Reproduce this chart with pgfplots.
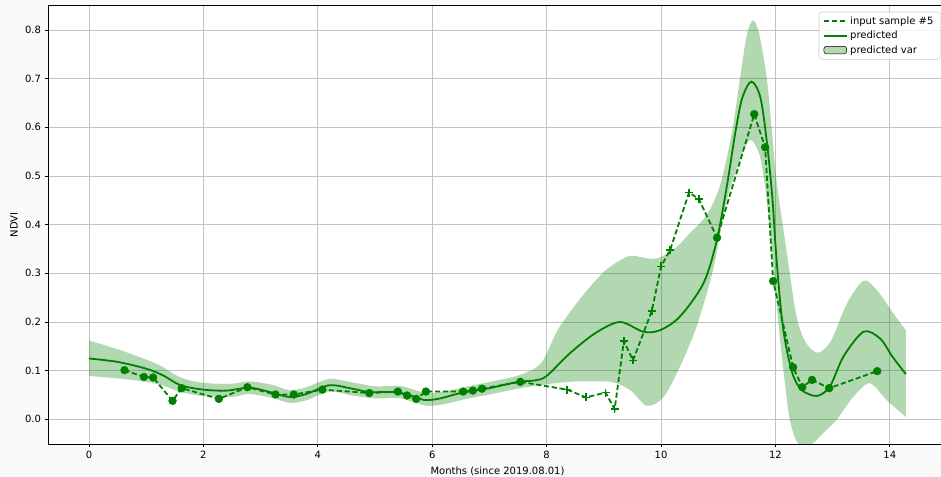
\documentclass[border=0pt]{standalone}
\usepackage{fontspec}
\setmainfont{DejaVu Sans}
\usepackage{pgfplots}
\pgfplotsset{compat=1.18}
\usepackage{pgfplotstable}
\usepgfplotslibrary{fillbetween}
\definecolor{mplgreen}{RGB}{0,128,0}
\definecolor{gridc}{RGB}{195,195,195}
\definecolor{bgc}{RGB}{249,249,249}
\definecolor{legc}{RGB}{204,204,204}

% input sample #5 : m=0 circle (valid), m=1 plus
\pgfplotstableread{
x y m
0.62 0.101 0
0.96 0.087 0
1.12 0.086 0
1.46 0.038 0
1.62 0.064 0
2.27 0.042 0
2.77 0.066 0
3.26 0.051 0
3.58 0.051 0
4.08 0.061 0
4.90 0.054 0
5.40 0.057 0
5.56 0.049 0
5.72 0.042 0
5.89 0.057 0
6.54 0.057 0
6.71 0.059 0
6.87 0.063 0
7.54 0.077 0
8.36 0.061 1
8.69 0.045 1
9.03 0.055 1
9.19 0.021 1
9.35 0.161 1
9.51 0.121 1
9.84 0.223 1
10.00 0.314 1
10.16 0.348 1
10.49 0.466 1
10.66 0.453 1
10.98 0.373 0
11.63 0.627 0
11.82 0.559 0
11.96 0.284 0
12.31 0.107 0
12.47 0.066 0
12.64 0.081 0
12.94 0.064 0
13.78 0.099 0
}\sampletab

\pgfplotstableread{
x y
0 0.125
0.5 0.118
1.0 0.104
1.3 0.090
1.6 0.070
2.0 0.061
2.4 0.059
2.8 0.065
3.1 0.058
3.5 0.046
3.8 0.052
4.2 0.070
4.6 0.063
4.9 0.056
5.3 0.056
5.6 0.050
5.85 0.040
6.1 0.042
6.5 0.054
7.0 0.064
7.5 0.077
7.8 0.080
8.0 0.089
8.4 0.135
8.85 0.177
9.28 0.200
9.69 0.180
9.98 0.183
10.33 0.211
10.74 0.279
10.97 0.365
11.15 0.478
11.3 0.590
11.42 0.660
11.58 0.694
11.74 0.660
11.86 0.560
11.95 0.450
12.0 0.360
12.05 0.285
12.12 0.200
12.2 0.142
12.31 0.090
12.46 0.060
12.72 0.048
12.95 0.067
13.19 0.129
13.54 0.180
13.83 0.166
14.05 0.128
14.28 0.093
}\predtab

\pgfplotstableread{
x y
0 0.162
0.6 0.140
1.2 0.113
1.6 0.086
2.0 0.075
2.5 0.073
2.8 0.078
3.2 0.071
3.5 0.060
3.8 0.066
4.2 0.083
4.6 0.076
5.0 0.068
5.4 0.069
5.6 0.064
5.9 0.054
6.2 0.057
6.6 0.067
7.0 0.077
7.5 0.090
7.9 0.115
8.2 0.185
8.6 0.250
9.0 0.303
9.3 0.328
9.5 0.336
9.9 0.330
10.25 0.352
10.5 0.382
10.8 0.420
11.03 0.480
11.24 0.590
11.38 0.700
11.5 0.790
11.61 0.820
11.72 0.790
11.85 0.700
11.94 0.590
12.02 0.490
12.19 0.350
12.37 0.211
12.54 0.156
12.75 0.137
12.98 0.163
13.25 0.238
13.54 0.285
13.77 0.266
14.06 0.218
14.28 0.183
}\bandup

\pgfplotstableread{
x y
0 0.089
0.6 0.083
1.0 0.077
1.3 0.069
1.6 0.056
2.0 0.048
2.5 0.046
2.8 0.052
3.2 0.044
3.5 0.034
3.8 0.039
4.2 0.057
4.6 0.049
5.0 0.043
5.4 0.044
5.6 0.038
5.9 0.028
6.2 0.031
6.6 0.042
7.0 0.051
7.5 0.063
8.0 0.072
8.4 0.077
8.8 0.078
9.17 0.076
9.46 0.060
9.75 0.028
10.04 0.045
10.33 0.108
10.62 0.190
10.91 0.307
11.15 0.450
11.38 0.533
11.56 0.574
11.73 0.540
11.85 0.450
11.95 0.330
12.05 0.200
12.15 0.090
12.25 0.000
12.37 -0.045
12.5 -0.056
12.65 -0.050
12.83 -0.029
13.07 -0.001
13.36 0.046
13.65 0.074
13.94 0.040
14.28 0.005
}\bandlo

\pagecolor{bgc}
\begin{document}
\fontsize{7.5}{9}\selectfont
\begin{tikzpicture}
\begin{axis}[
  at={(0,0)}, anchor=south west,
  width=669.75pt, height=328.7pt, scale only axis,
  xmin=-0.717, xmax=14.895, ymin=-0.0507, ymax=0.8498,
  axis background/.style={fill=white},
  axis x line*=box, axis y line*=left,
  axis line style={black, line width=0.6pt},
  xtick={0,2,4,6,8,10,12,14},
  ytick={0,0.1,0.2,0.3,0.4,0.5,0.6,0.7,0.8},
  xtick pos=left, ytick pos=left,
  tick align=outside, major tick length=2.6pt,
  tick style={black, line width=0.6pt},
  grid=major, major grid style={gridc, line width=0.6pt},
  /pgf/number format/assume math mode=true,
  yticklabel style={/pgf/number format/.cd, fixed, fixed zerofill, precision=1},
  tick label style={font=\fontsize{7.5}{9}\selectfont},
  every axis y label/.style={at={(axis description cs:-0.0381,0.5)}, rotate=90, anchor=center, font=\fontsize{7.5}{9}\selectfont},
  every axis x label/.style={at={(axis description cs:0.5034,-0.0616)}, anchor=center, font=\fontsize{7.5}{9}\selectfont},
  xlabel={Months (since 2019.08.01)},
  ylabel={NDVI},
  legend style={at={(1,1)}, anchor=north east, xshift=-0.5pt, yshift=-4.5pt,
    draw=legc, rounded corners=2pt, fill=white, fill opacity=0.8, text opacity=1,
    font=\fontsize{7.5}{9}\selectfont, inner xsep=3pt, inner ysep=1.5pt, row sep=0pt},
  legend cell align=left,
]
% dashed input series (legend entry 1)
\addplot[mplgreen, line width=1.35pt, dash pattern=on 3.9pt off 2pt] table[x=x,y=y] {\sampletab};
\addlegendentry{input sample \#5}
% predicted mean (legend entry 2)
\addplot[mplgreen, line width=1.35pt, smooth] table {\predtab};
\addlegendentry{predicted}
% variance band (legend entry 3)
\addplot[name path=up, draw=none, smooth, forget plot] table {\bandup};
\addplot[name path=lo, draw=none, smooth, forget plot] table {\bandlo};
\addplot[fill=mplgreen, fill opacity=0.3, draw=none, area legend,
  legend image post style={draw=none}] fill between[of=up and lo];
\addlegendentry{predicted var}
% markers
\addplot[only marks, mark=*, mark size=2.9pt, mark options={draw=mplgreen, fill=mplgreen}, forget plot,
  restrict expr to domain={\thisrow{m}}{0:0}] table[x=x,y=y] {\sampletab};
\addplot[only marks, mark=+, mark size=3pt, mark options={draw=mplgreen, line width=1.2pt}, forget plot,
  restrict expr to domain={\thisrow{m}}{1:1}] table[x=x,y=y] {\sampletab};
\end{axis}
\pgfresetboundingbox
\path[use as bounding box] (-36pt,-24.75pt) rectangle (669.75pt,333pt);
\end{tikzpicture}
\end{document}
